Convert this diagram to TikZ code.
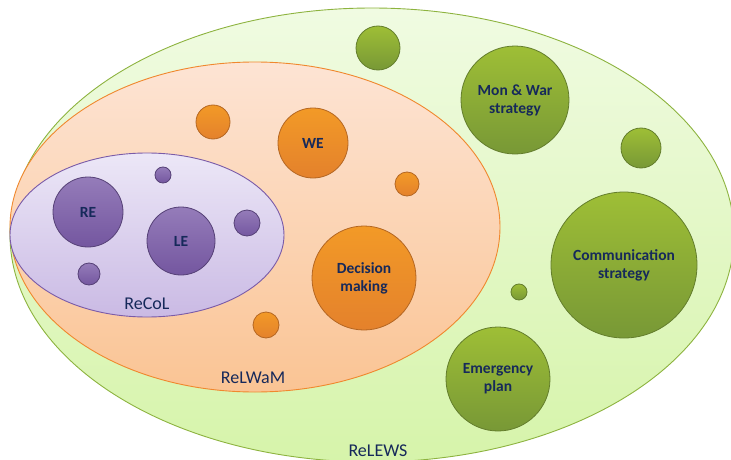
\documentclass[tikz,border=0pt]{standalone}
\usepackage{fontspec}
\setmainfont{Carlito}
\usetikzlibrary{shapes.geometric}
\definecolor{txt}{HTML}{16295A}
\definecolor{gline}{HTML}{8DB33F}
\definecolor{oline}{HTML}{F0882E}
\definecolor{pline}{HTML}{7A5BA8}
\tikzset{
  x=1pt,y=-1pt,
  region/.style={ellipse,inner sep=0pt,line width=0.9pt},
  ball/.style={circle,inner sep=0pt,align=center,font=\bfseries\fontsize{15.5}{18}\selectfont,text=txt,line width=0.8pt},
  pball/.style={ball,top color=pline!80!white,bottom color=pline!95!black,draw=pline!70!black},
  oball/.style={ball,top color=oline!85!yellow,bottom color=oline!95!black,draw=oline!75!black},
  gball/.style={ball,top color=gline!85!yellow,bottom color=gline!85!black,draw=gline!70!black},
  lab/.style={text=txt,font=\fontsize{18}{20}\selectfont}
}
\begin{document}
\begin{tikzpicture}
\useasboundingbox (0,0) rectangle (731,460);
\node[region,draw=gline,top color={rgb,255:red,240;green,251;blue,226},bottom color={rgb,255:red,214;green,244;blue,170},minimum width=724,minimum height=454] (relews) at (372,235) {};
\node[region,draw=oline,top color={rgb,255:red,253;green,228;blue,212},bottom color={rgb,255:red,250;green,196;blue,148},minimum width=490,minimum height=330] (relwam) at (255,227) {};
\node[region,draw=pline,top color={rgb,255:red,236;green,231;blue,247},bottom color={rgb,255:red,202;green,186;blue,228},minimum width=274,minimum height=164] (recol) at (147,235) {};
% purple balls
\node[pball,minimum size=70] (re) at (88,212) {RE};
\node[pball,minimum size=68] (le) at (181,241) {LE};
\node[pball,minimum size=16] (p1) at (163,175) {};
\node[pball,minimum size=26] (p2) at (247,223) {};
\node[pball,minimum size=22] (p3) at (89,274) {};
% orange balls
\node[oball,minimum size=70] (we) at (313,143) {WE};
\node[oball,minimum size=104] (dm) at (364,278) {Decision\\making};
\node[oball,minimum size=24] (o1) at (407,184) {};
\node[oball,minimum size=34] (o2) at (213,122) {};
\node[oball,minimum size=26] (o3) at (266,325) {};
% green balls
\node[gball,minimum size=108] (mw) at (515,100) {Mon \& War\\strategy};
\node[gball,minimum size=146] (cs) at (624,265) {Communication\\strategy};
\node[gball,minimum size=104] (ep) at (498,379) {Emergency\\plan};
\node[gball,minimum size=44] (g1) at (378,48) {};
\node[gball,minimum size=40] (g2) at (641,148) {};
\node[gball,minimum size=16] (g3) at (519,292) {};
% labels
\node[lab] (lrecol) at (147,304) {ReCoL};
\node[lab] (lrelwam) at (253,378) {ReLWaM};
\node[lab] (lrelews) at (378,451) {ReLEWS};
\end{tikzpicture}
\end{document}
